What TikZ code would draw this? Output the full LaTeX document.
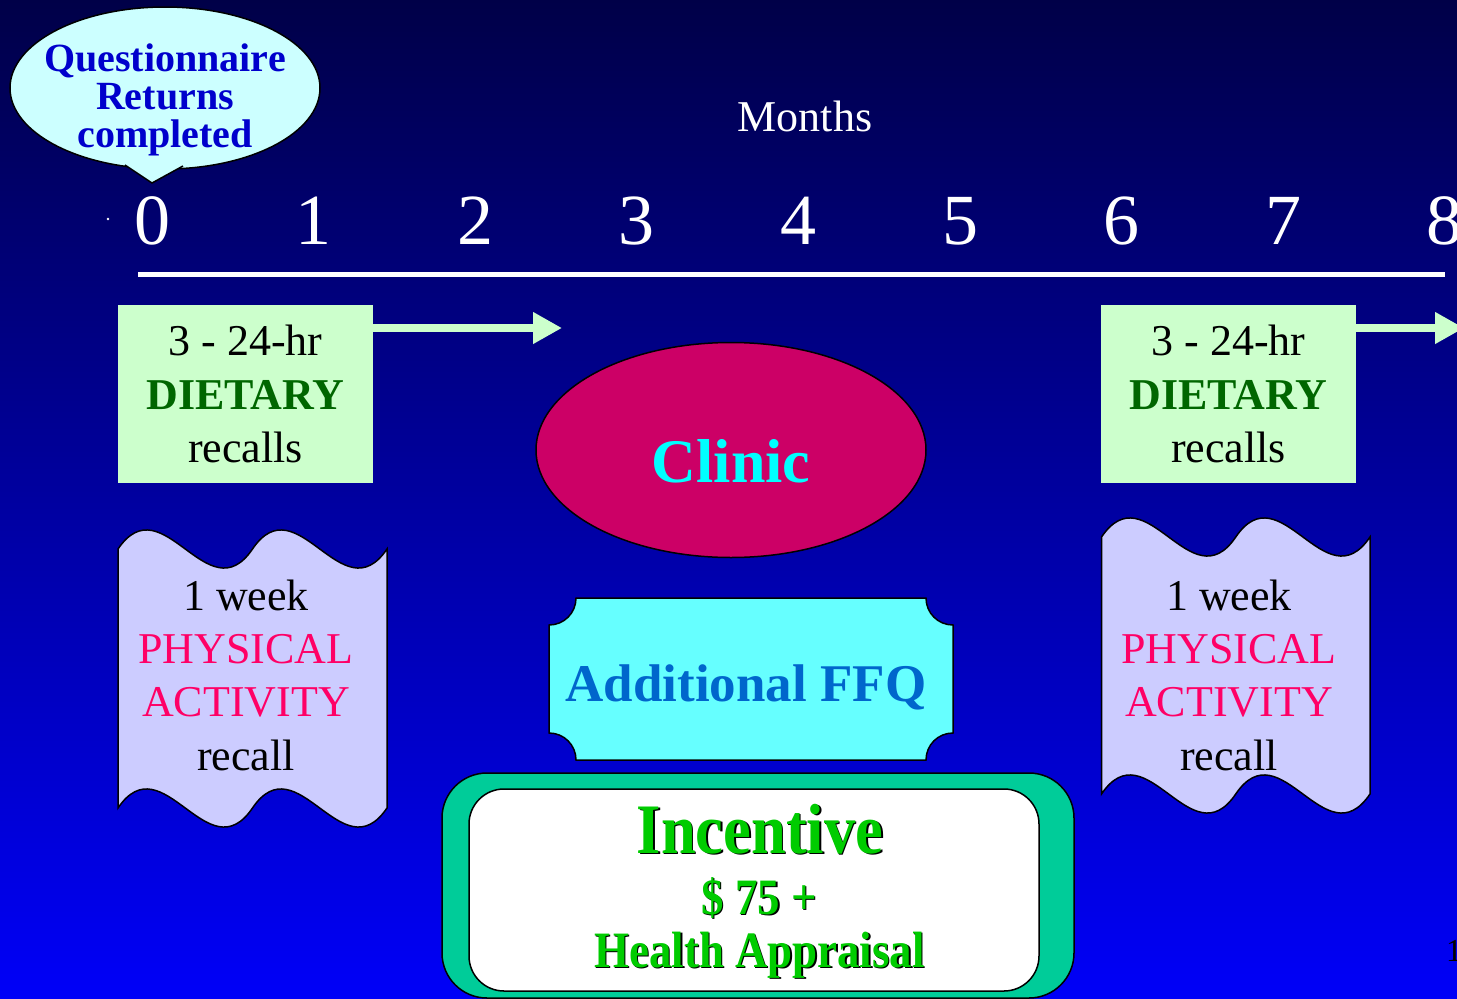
\documentclass[tikz,border=0pt]{standalone}
\usepackage{fontspec}
\setmainfont{Liberation Serif}
\usepackage{graphicx}
\usetikzlibrary{shapes.geometric,arrows.meta}
\definecolor{bgtop}{RGB}{0,0,72}
\definecolor{bgbot}{RGB}{0,0,248}
\definecolor{callfill}{RGB}{204,255,255}
\definecolor{calltext}{RGB}{0,0,204}
\definecolor{dietfill}{RGB}{204,255,204}
\definecolor{dietgreen}{RGB}{0,102,0}
\definecolor{wavefill}{RGB}{204,204,255}
\definecolor{pinktext}{RGB}{255,0,102}
\definecolor{clinicfill}{RGB}{204,0,102}
\definecolor{clinictext}{RGB}{0,255,255}
\definecolor{ffqfill}{RGB}{102,255,255}
\definecolor{ffqtext}{RGB}{0,102,204}
\definecolor{incouter}{RGB}{0,204,153}
\definecolor{incgreen}{RGB}{0,204,0}
\newcommand\fsz[2]{\fontsize{#1}{#2}\selectfont}
\newcommand\shtext[1]{\scalebox{0.88}[1]{\rlap{\kern1.8pt\raisebox{-1.8pt}{\color{black}#1}}#1}}
\newcommand\wavepath[5]{% x0, width, top, bottom, amplitude control
  (#1,#3) .. controls ({#1+#2/6},{#3-#5}) and ({#1+#2/3},{#3+#5}) .. ({#1+#2/2},#3)
  .. controls ({#1+2*#2/3},{#3-#5}) and ({#1+5*#2/6},{#3+#5}) .. ({#1+#2},#3)
  -- ({#1+#2},#4)
  .. controls ({#1+5*#2/6},{#4+#5}) and ({#1+2*#2/3},{#4-#5}) .. ({#1+#2/2},#4)
  .. controls ({#1+#2/3},{#4+#5}) and ({#1+#2/6},{#4-#5}) .. (#1,#4) -- cycle}
\begin{document}
\begin{tikzpicture}[x=1pt,y=-1pt,
  outline/.style={draw=black, line width=1.5pt},
  dietbox/.style={fill=dietfill, minimum width=255pt, minimum height=178pt, inner sep=0pt, align=center, font=\fsz{44}{53.5}},
  wavetext/.style={align=center, inner sep=0pt, font=\fsz{44}{53.3}},
  digit/.style={text=white, inner sep=0pt, font=\fsz{72}{72}},
  arr/.style={draw=dietfill, line width=8pt, -{Triangle[length=29pt,width=30pt]}},
  inctext/.style={text=incgreen, inner sep=0pt, anchor=base}]
\useasboundingbox (0,0) rectangle (1457,999);
\clip (0,0) rectangle (1457,999);
% background
\shade[top color=bgtop, bottom color=bgbot] (0,0) rectangle (1457,999);

% callout
\node[ellipse, outline, fill=callfill, minimum width=310pt, minimum height=162pt, inner sep=0pt] (qbub) at (165,88) {};
\fill[callfill] (120,158) -- (125,165) -- (152,183) -- (183,166) -- (188,158) -- cycle;
\draw[line width=1.5pt] (125,165) -- (152,183) -- (183,166);
\node[align=center, inner sep=0pt, text=calltext, font=\bfseries\fsz{40}{38}] (qtext) at (165,100) {Questionnaire\\Returns\\completed};

% months and axis
\node[text=white, inner sep=0pt, font=\fsz{44}{44}] (months) at (805,116) {Months};
\fill[white] (108,219) circle (1.3pt);
\foreach \i/\x in {0/152,1/313,2/475,3/636,4/798,5/960,6/1121,7/1283,8/1444}
  \node[digit] (d\i) at (\x,221) {\i};
\coordinate (tlA) at (138,274);
\coordinate (tlB) at (1445,274);
\draw[white, line width=5pt] (tlA) -- (tlB);

% dietary boxes
\node[dietbox] (dietL) at (245.5,394) {3 - 24-hr\\\textbf{\color{dietgreen}DIETARY}\\recalls};
\node[dietbox] (dietR) at (1228.5,394) {3 - 24-hr\\\textbf{\color{dietgreen}DIETARY}\\recalls};
\coordinate (arrL) at (562,328);
\coordinate (arrR) at (1464,328);
\draw[arr] (dietL.east |- arrL) -- (arrL);
\draw[arr] (dietR.east |- arrR) -- (arrR);

% physical activity waves
\path[outline, fill=wavefill] \wavepath{118}{269}{549}{808}{66};
\path[outline, fill=wavefill] \wavepath{1101.5}{268.5}{537}{794}{66};
\node[wavetext] (paL) at (246,675) {1 week\\\textcolor{pinktext}{PHYSICAL}\\\textcolor{pinktext}{ACTIVITY}\\recall};
\node[wavetext] (paR) at (1229,675) {1 week\\\textcolor{pinktext}{PHYSICAL}\\\textcolor{pinktext}{ACTIVITY}\\recall};

% clinic
\node[ellipse, outline, fill=clinicfill, minimum width=390pt, minimum height=215pt, inner sep=0pt] (clinic) at (731,450) {};
\node[text=clinictext, inner sep=0pt, font=\bfseries\fsz{62}{62}] (clinictxt) at (731,461) {Clinic};

% additional FFQ plaque
\path[outline, fill=ffqfill] (576,598) -- (926,598) .. controls (926,613) and (938,625) .. (953,625)
  -- (953,733) .. controls (938,733) and (926,745) .. (926,760)
  -- (576,760) .. controls (576,745) and (564,733) .. (549,733)
  -- (549,625) .. controls (564,625) and (576,613) .. (576,598) -- cycle;
\node[text=ffqtext, inner sep=0pt, font=\bfseries\fsz{53}{53}] (ffq) at (746,687) {Additional FFQ};

% incentive
\node[outline, fill=incouter, rounded corners=45pt, minimum width=632pt, minimum height=225pt, inner sep=0pt] (incout) at (758,885.5) {};
\node[outline, fill=white, rounded corners=35pt, minimum width=570pt, minimum height=202pt, inner sep=0pt] (incin) at (754,890) {};
\node[inctext, font=\bfseries\fsz{71}{71}] (inc1) at (760,853) {\shtext{Incentive}};
\node[inctext, font=\bfseries\fsz{51}{51}] (inc2) at (759,914) {\shtext{\$ 75 +}};
\node[inctext, font=\bfseries\fsz{51}{51}] (inc3) at (759.5,967) {\shtext{Health Appraisal}};

% page number
\node[anchor=base west, inner sep=0pt, font=\fsz{32}{32}] (pnum) at (1446,961) {1};
\end{tikzpicture}
\end{document}
